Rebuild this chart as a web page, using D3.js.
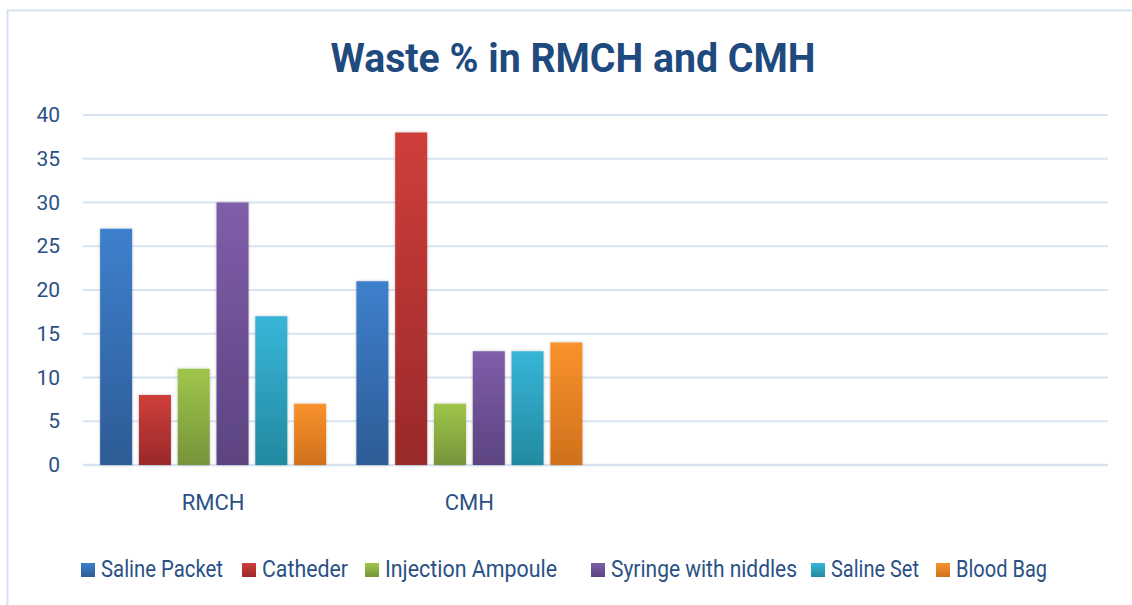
<!DOCTYPE html>
<html>
<head>
<meta charset="utf-8">
<style>
  body { margin: 0; background: #fff; }
  svg { display: block; font-family: Roboto, "Noto Sans", sans-serif; }
</style>
</head>
<body>
<svg id="svg"></svg>
<script src="https://cdn.jsdelivr.net/npm/d3@7"></script>
<script>

// data
const categories = ["RMCH", "CMH", "", " "];
const series = ["Saline Packet", "Catheder", "Injection Ampoule", "Syringe with niddles", "Saline Set", "Blood Bag"];
const rmchValues = [27, 8, 11, 30, 17, 7];
const cmhValues = [21, 38, 7, 13, 13, 14];
const yTicks = [0, 5, 10, 15, 20, 25, 30, 35, 40];

// colours: [top, bottom] of the vertical gradient
const colorsTop = ["#3e80cd", "#cf3e3a", "#9fc64b", "#7f5ea9", "#38b5d8", "#f9922d"];
const colorsBottom = ["#2d5b95", "#99292a", "#76943a", "#5c4380", "#228aa0", "#d0701c"];

const width = 1132, height = 605;
const marginLeft = 83, marginRight = 24, marginTop = 115, marginBottom = 140;

const svg = d3.select("#svg")
    .attr("width", width)
    .attr("height", height);

// frame around the chart area
svg.append("rect")
    .attr("x", 7.5).attr("y", 10.5)
    .attr("width", 1200).attr("height", 700)
    .attr("fill", "none")
    .attr("stroke", "#d5e2f3")
    .attr("stroke-width", 2);

const defs = svg.append("defs");
series.forEach(function(s, i) {
  const g = defs.append("linearGradient")
      .attr("id", "grad" + i)
      .attr("x1", 0).attr("y1", 0).attr("x2", 0).attr("y2", 1);
  g.append("stop").attr("offset", "0%").attr("stop-color", colorsTop[i]);
  g.append("stop").attr("offset", "100%").attr("stop-color", colorsBottom[i]);
});

const shadow = defs.append("filter").attr("id", "shadow")
    .attr("x", "-20%").attr("y", "-5%").attr("width", "140%").attr("height", "110%");
shadow.append("feDropShadow")
    .attr("dx", 0).attr("dy", 0).attr("stdDeviation", 1.5)
    .attr("flood-color", "#000").attr("flood-opacity", 0.25);

const data = categories.map(function(c, ci) {
  return {
    category: c,
    values: ci === 0 ? rmchValues : ci === 1 ? cmhValues : []
  };
});

const x0 = d3.scaleBand()
    .domain(categories)
    .range([marginLeft + 2, width - marginRight + 2])
    .padding(0);

const x1 = d3.scaleBand()
    .domain(series)
    .range([0, x0.bandwidth()])
    .paddingInner(0.175)
    .paddingOuter(0.39);

const y = d3.scaleLinear()
    .domain([0, 40])
    .range([height - marginBottom, marginTop]);

// gridlines
svg.append("g")
    .selectAll("line")
    .data(yTicks)
    .join("line")
    .attr("x1", marginLeft)
    .attr("x2", width - marginRight)
    .attr("y1", function(d) { return y(d); })
    .attr("y2", function(d) { return y(d); })
    .attr("stroke", "#d8e3f2")
    .attr("stroke-width", function(d) { return d === 0 ? 2.5 : 1.8; });

// y axis labels
const yAxis = svg.append("g")
    .attr("transform", `translate(${marginLeft - 23}, 0)`)
    .call(d3.axisLeft(y).tickValues(yTicks).tickSize(0).tickPadding(0));
yAxis.select(".domain").remove();
yAxis.selectAll("text")
    .attr("fill", "#2a5185")
    .attr("font-size", "21px")
    .attr("font-family", "Roboto, sans-serif");

// x axis labels
const xAxis = svg.append("g")
    .attr("transform", `translate(0, ${y(0) + 29})`)
    .call(d3.axisBottom(x0).tickSize(0).tickPadding(0));
xAxis.select(".domain").remove();
xAxis.selectAll("text")
    .attr("fill", "#2a5185")
    .attr("font-size", "22px")
    .attr("font-family", "Roboto, sans-serif");

// bars
const groups = svg.append("g")
    .selectAll("g")
    .data(data)
    .join("g")
    .attr("transform", function(d) { return `translate(${x0(d.category)}, 0)`; });

groups.selectAll("rect")
    .data(function(d) { return d.values.map(function(v, i) { return { key: series[i], value: v, i: i }; }); })
    .join("rect")
    .attr("x", function(d) { return x1(d.key); })
    .attr("y", function(d) { return y(d.value); })
    .attr("width", x1.bandwidth())
    .attr("height", function(d) { return y(0) - y(d.value); })
    .attr("fill", function(d) { return "url(#grad" + d.i + ")"; })
    .attr("filter", "url(#shadow)");

// title
svg.append("text")
    .attr("x", 573)
    .attr("y", 72)
    .attr("text-anchor", "middle")
    .attr("font-family", "Roboto, sans-serif")
    .attr("font-weight", "bold")
    .attr("font-size", "41px")
    .attr("textLength", 485)
    .attr("lengthAdjust", "spacingAndGlyphs")
    .attr("fill", "#1f4a7e")
    .text("Waste % in RMCH and CMH");

// legend
const legendX = [81, 242, 365, 591, 811, 936];
const legendW = [122, 86, 172, 186, 88, 91];
const legend = svg.append("g")
    .selectAll("g")
    .data(series)
    .join("g")
    .attr("transform", function(d, i) { return `translate(${legendX[i]}, 563)`; });

legend.append("rect")
    .attr("width", 14)
    .attr("height", 14)
    .attr("fill", function(d, i) { return "url(#grad" + i + ")"; });

legend.append("text")
    .attr("x", 20)
    .attr("y", 14)
    .attr("font-family", "Roboto, sans-serif")
    .attr("font-size", "24px")
    .attr("textLength", function(d, i) { return legendW[i]; })
    .attr("lengthAdjust", "spacingAndGlyphs")
    .attr("fill", "#2a5185")
    .text(function(d) { return d; });

</script>
</body>
</html>
